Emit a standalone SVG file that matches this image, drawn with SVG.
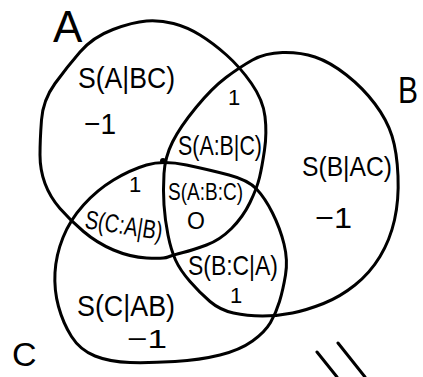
<svg xmlns="http://www.w3.org/2000/svg" width="423" height="377" viewBox="0 0 423 377">
<style>
.set{fill:none;stroke:#000;stroke-width:3;stroke-linejoin:round;stroke-linecap:round}
.t{font-family:"Liberation Sans",Arial,sans-serif;fill:#000}
.mark{stroke:#000;stroke-width:3;stroke-linecap:round;fill:none}
</style>
<rect width="423" height="377" fill="#fff"/>
<g id="setA">
<path class="set" d="M41.5,120 Q43,100 55,83.5 Q67,67 80,52 Q93,37 113,29.5 Q133,22 146.5,21 Q160,20 173.5,23.5 Q187,27 200,35 Q213,43 226.5,55 Q240,67 251.5,83.5 Q263,100 265,116.5 Q267,133 264.5,150 Q262,167 259.5,177.5 Q257,188 250,202.5 Q243,217 231.5,228.5 Q220,240 206.5,245 Q193,250 183,252.5 Q173,255 168,257 Q163,259 146.5,258 Q130,257 113.5,250 Q97,243 83.5,231.5 Q70,220 60,208.5 Q50,197 45,183.5 Q40,170 40,155 Q40,140 41.5,120 Z"/>
<text class="t" x="53" y="42" font-size="44">A</text>
</g>
<g id="setB">
<path class="set" d="M252.5,60 Q265,53 282.5,52.5 Q300,52 315,57 Q330,62 346.5,75 Q363,88 375,104 Q387,120 392,136 Q397,152 398,176 Q399,200 394.5,220 Q390,240 380,256.5 Q370,273 355,285 Q340,297 323.5,303.5 Q307,310 292.5,313 Q278,316 262.5,316 Q247,316 233.5,313 Q220,310 210,301.5 Q200,293 190,281.5 Q180,270 175.5,260 Q171,250 168,235 Q165,220 164,205 Q163,190 164,173.5 Q165,157 172.5,142 Q180,127 196,107.5 Q212,88 226,77.5 Q240,67 252.5,60 Z"/>
<text class="t" x="398" y="103" font-size="36" textLength="20" lengthAdjust="spacingAndGlyphs">B</text>
</g>
<g id="setC">
<path class="set" d="M83.5,205 Q97,190 113.5,180 Q130,170 146.5,165 Q163,160 186.5,165 Q210,170 229,175 Q248,180 256.5,189 Q265,198 272.5,213 Q280,228 284,244 Q288,260 285.5,275 Q283,290 279.5,301.5 Q276,313 270.5,322.5 Q265,332 252.5,341 Q240,350 220,355 Q200,360 175,361.5 Q150,363 130,362.5 Q110,362 95,356 Q80,350 71.5,336.5 Q63,323 58.5,306.5 Q54,290 55,272.5 Q56,255 63,237.5 Q70,220 83.5,205 Z"/>
<text class="t" x="12" y="366" font-size="34">C</text>
</g>
<circle cx="163" cy="161" r="3" fill="#000"/>
<g id="regionA">
<text class="t" x="78" y="88" font-size="30" textLength="97" lengthAdjust="spacingAndGlyphs">S(A|BC)</text>
<text class="t" x="84" y="134" font-size="30" textLength="32" lengthAdjust="spacingAndGlyphs">−1</text>
</g>
<g id="regionB">
<text class="t" x="302" y="176" font-size="28" textLength="90" lengthAdjust="spacingAndGlyphs">S(B|AC)</text>
<text class="t" x="315" y="228" font-size="30" textLength="37" lengthAdjust="spacingAndGlyphs">−1</text>
</g>
<g id="regionC">
<text class="t" x="77" y="316" font-size="30" textLength="98" lengthAdjust="spacingAndGlyphs">S(C|AB)</text>
<text class="t" x="127" y="348" font-size="26" textLength="40" lengthAdjust="spacingAndGlyphs">−1</text>
</g>
<g id="regionAB">
<text class="t" x="228" y="105" font-size="22">1</text>
<text class="t" x="178" y="155" font-size="28" textLength="84" lengthAdjust="spacingAndGlyphs">S(A:B|C)</text>
</g>
<g id="regionABC">
<text class="t" x="168" y="200" font-size="24" textLength="75" lengthAdjust="spacingAndGlyphs">S(A:B:C)</text>
<text class="t" x="187" y="229" font-size="23">O</text>
</g>
<g id="regionAC">
<text class="t" x="129" y="192" font-size="22">1</text>
<text class="t" x="84" y="228" font-size="26" textLength="78" lengthAdjust="spacingAndGlyphs" transform="rotate(9 84 228)">S(C:A|B)</text>
</g>
<g id="regionBC">
<text class="t" x="188" y="275" font-size="28" textLength="90" lengthAdjust="spacingAndGlyphs">S(B:C|A)</text>
<text class="t" x="230" y="303" font-size="22">1</text>
</g>
<g id="connectors">
<path class="mark" d="M317,352 L337,377 M338,343 L365,377"/>
</g>
</svg>
